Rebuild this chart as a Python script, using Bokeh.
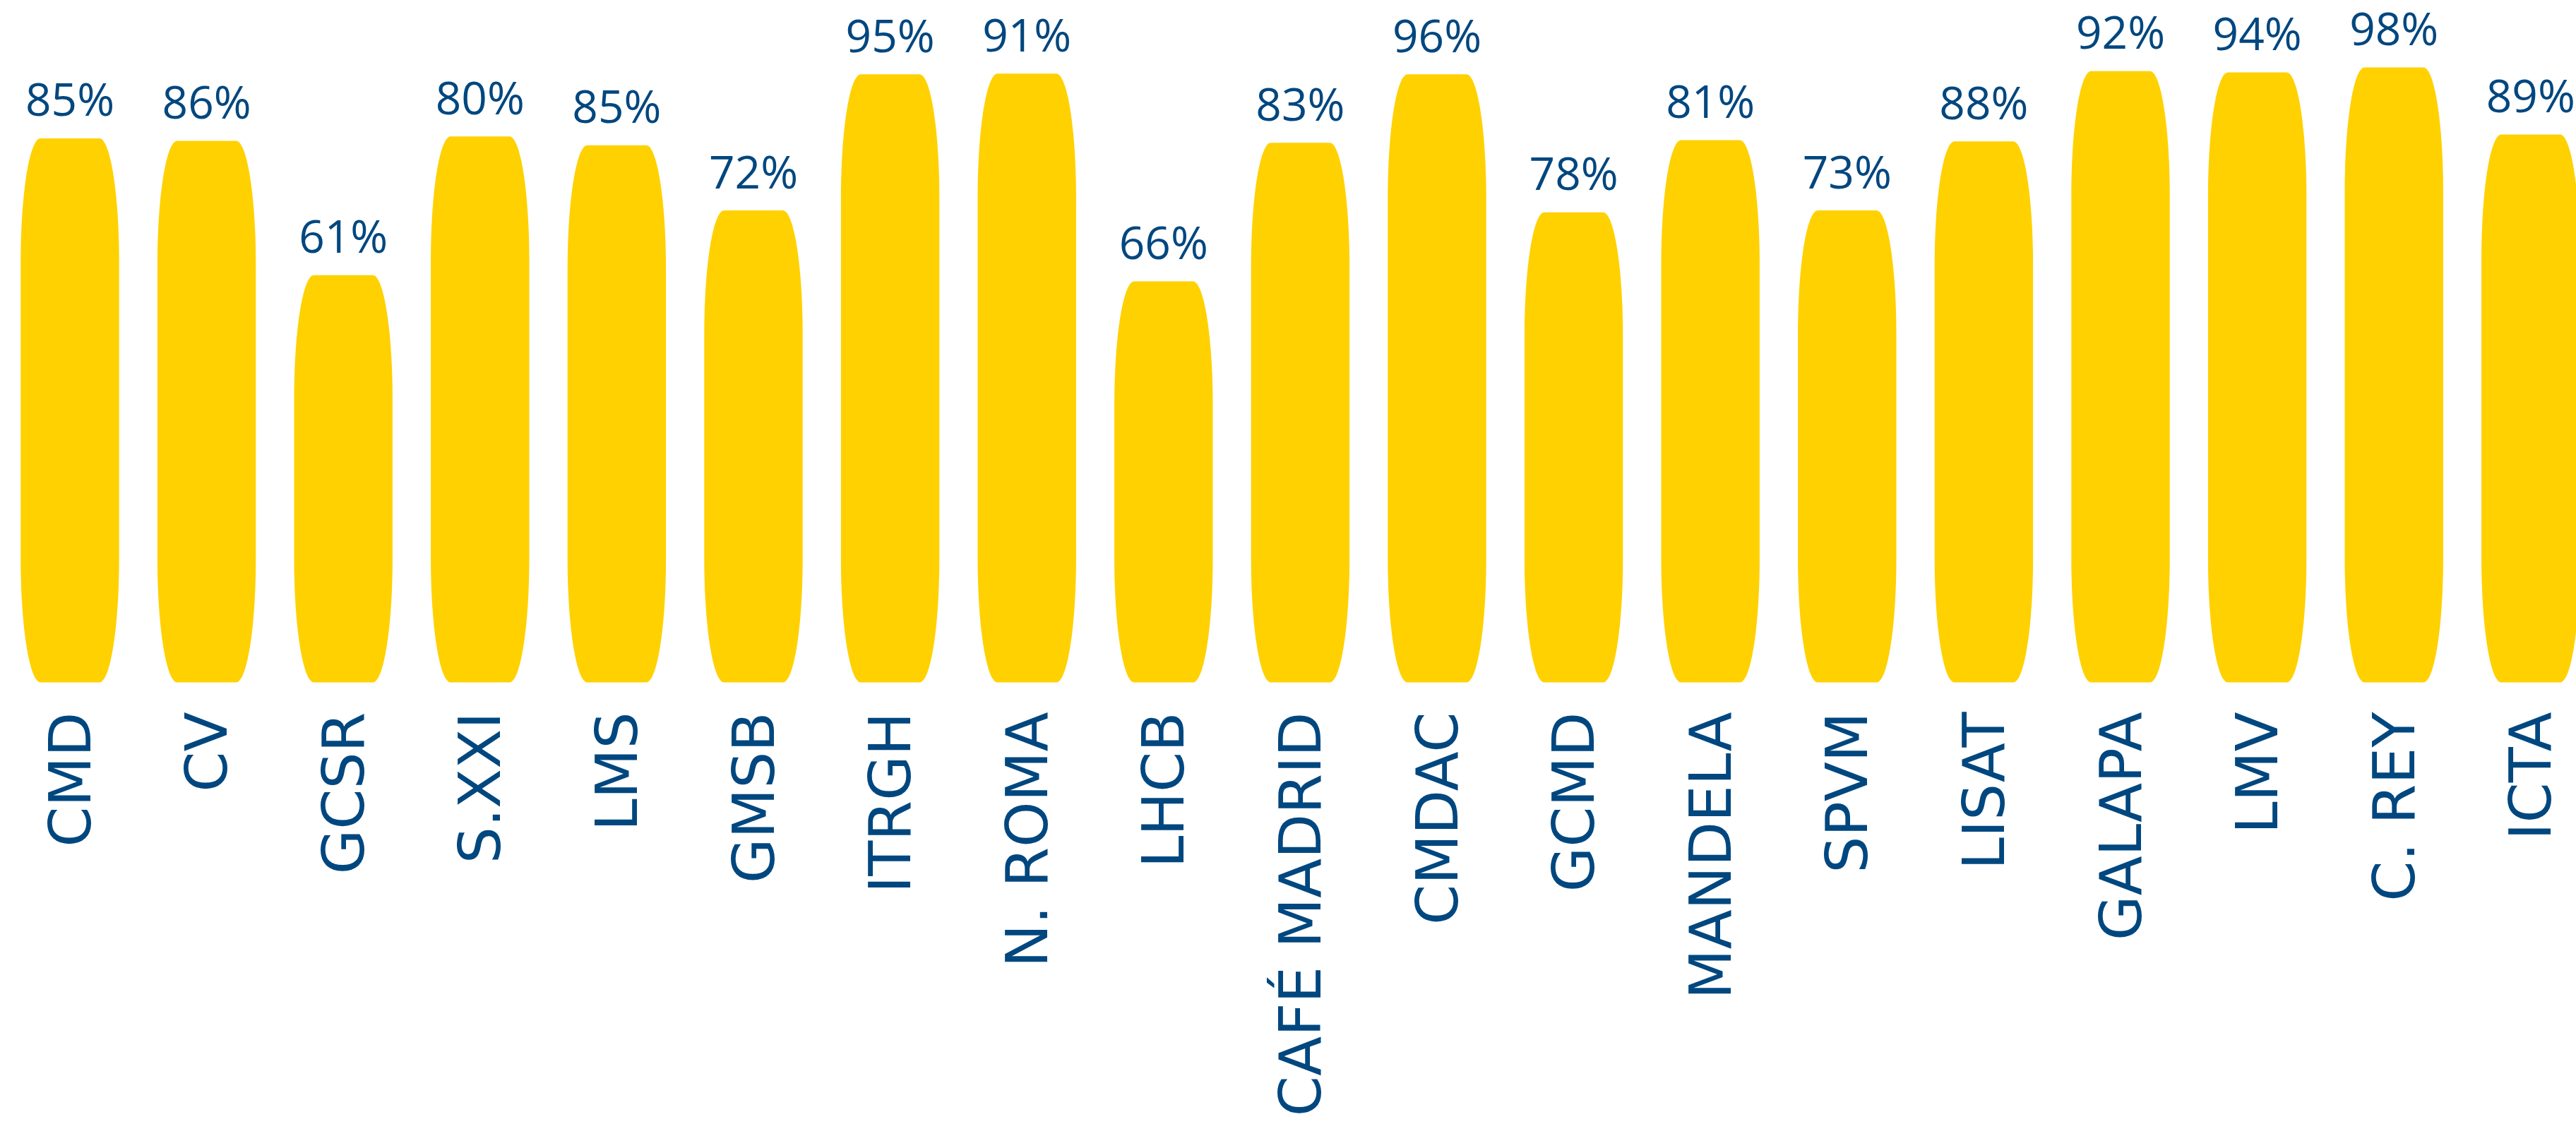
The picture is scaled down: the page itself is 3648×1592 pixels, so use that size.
import numpy as np
from bokeh.plotting import figure
from bokeh.models import Range1d, ColumnDataSource
from bokeh.embed import file_html
from bokeh.resources import INLINE
from bokeh.core.properties import value

# ---- data ----
categories = ["CMD", "CV", "GCSR", "S.XXI", "LMS", "GMSB", "ITRGH", "N. ROMA", "LHCB",
              "CAFÉ MADRID", "CMDAC", "GCMD", "MANDELA", "SPVM", "LISAT", "GALAPA",
              "LMV", "C. REY", "ICTA"]
percent = [85, 86, 61, 80, 85, 72, 95, 91, 66, 83, 96, 78, 81, 73, 88, 92, 94, 98, 89]
# drawn bar heights as they appear in the picture (same % scale)
bar_height = [86.7, 86.3, 64.9, 87.0, 85.6, 75.2, 96.9, 97.0, 63.9, 86.0, 96.9, 74.9,
              86.4, 75.2, 86.2, 97.4, 97.2, 98.0, 87.3]
labels = [f"{v}%" for v in percent]

# ---- style ----
BAR_COLOR = "#FFD100"
TEXT_COLOR = "#01477F"
W, H = 3648, 1592
PITCH_PX = 193.6
FIRST_PX = 98.5
BASE_PX = 966.0
PX_PER_PCT = 8.888
X0 = -FIRST_PX / PITCH_PX
X1 = X0 + W / PITCH_PX
Y1 = BASE_PX / PX_PER_PCT
Y0 = -(H - BASE_PX) / PX_PER_PCT
BAR_W = 0.72            # in category units
RX_PX, RY_PX = 28, 175  # elliptical corner radii in screen px
LABEL_GAP_PX = 56
CAT_GAP_PX = 42

rx = RX_PX / PITCH_PX
ry = RY_PX / PX_PER_PCT

x = np.arange(len(categories), dtype=float)
top = np.array(bar_height, dtype=float)


def rounded_bar(xc, y_top, y_bot=0.0, n=28):
    xs, ys = [], []
    corners = [
        (xc + BAR_W / 2 - rx, y_top - ry, 0.0, np.pi / 2),
        (xc - BAR_W / 2 + rx, y_top - ry, np.pi / 2, np.pi),
        (xc - BAR_W / 2 + rx, y_bot + ry, np.pi, 1.5 * np.pi),
        (xc + BAR_W / 2 - rx, y_bot + ry, 1.5 * np.pi, 2 * np.pi),
    ]
    for cx, cy, a0, a1 in corners:
        t = np.linspace(a0, a1, n)
        xs.extend(cx + rx * np.cos(t))
        ys.extend(cy + ry * np.sin(t))
    return xs, ys


shapes = [rounded_bar(xi, ti) for xi, ti in zip(x, top)]

p = figure(width=W, height=H, x_range=Range1d(X0, X1), y_range=Range1d(Y0, Y1),
           output_backend="svg", toolbar_location=None, min_border=0)
p.axis.visible = False
p.grid.visible = False
p.outline_line_color = None
p.background_fill_color = "white"
p.border_fill_color = "white"

p.patches(xs=[s[0] for s in shapes], ys=[s[1] for s in shapes],
          fill_color=BAR_COLOR, line_color=None)

src = ColumnDataSource(dict(x=x, top=top, lab_y=top + LABEL_GAP_PX / PX_PER_PCT,
                            base=np.zeros_like(top), lab=labels, cat=categories))

p.text(x="x", y="lab_y", text="lab", source=src, text_align="center",
       text_baseline="alphabetic",
       text_font=value("Open Sans"), text_font_size="64px", text_color=TEXT_COLOR)

p.text(x="x", y="base", text="cat", source=src, angle=np.pi / 2,
       text_align="right", text_baseline="middle", y_offset=CAT_GAP_PX,
       text_font=value("DejaVu Sans"), text_font_size="82px", text_color=TEXT_COLOR)

open("out.html", "w").write(file_html(p, INLINE))
